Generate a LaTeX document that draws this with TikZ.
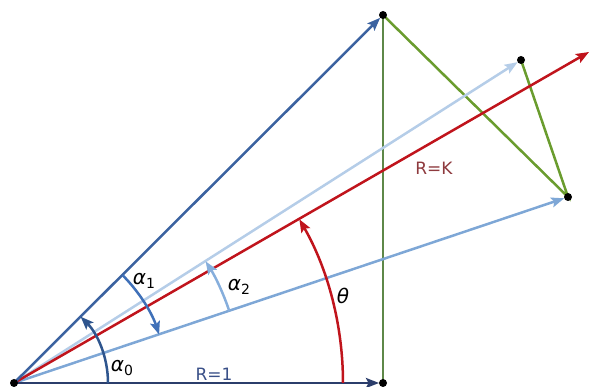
\documentclass[tikz,border=0pt]{standalone}
\usepackage{fontspec}
\setmainfont{DejaVu Sans}
\usetikzlibrary{arrows.meta,calc}
\definecolor{navy}{HTML}{2B3D6B}
\definecolor{rnavy}{HTML}{3A5088}
\definecolor{dblue}{HTML}{3B62A0}
\definecolor{arcblue}{HTML}{2E558E}
\definecolor{mblue}{HTML}{3F70B8}
\definecolor{lblue}{HTML}{7EA7D6}
\definecolor{vlblue}{HTML}{B5CDE8}
\definecolor{arclblue}{HTML}{86AEDC}
\definecolor{dred}{HTML}{C0141C}
\definecolor{kred}{HTML}{8E3A3E}
\definecolor{lgreen}{HTML}{6A9C2E}
\definecolor{vgreen}{HTML}{5E8848}
\begin{document}
\begin{tikzpicture}[x=1pt,y=1pt,
  vec/.style={line width=2.5pt,-{Stealth[length=13pt,width=10pt,inset=2.5pt]}},
  arcarrow/.style={line width=2.5pt,-{Stealth[length=13pt,width=10pt,inset=2.5pt]}},
  seg/.style={line width=2.5pt},
  dot/.style={circle,fill=black,inner sep=0pt,minimum size=8pt},
  lab/.style={font=\fontsize{20}{20}\selectfont\itshape,inner sep=0pt},
  rlab/.style={font=\fontsize{17}{17}\selectfont,inner sep=0pt}]
\useasboundingbox (0,0) rectangle (589,387);
\coordinate (O) at (14,4);
\coordinate (A) at (383,4);
\coordinate (B) at (383,372);
\coordinate (C) at (521,327);
\coordinate (D) at (568,190);
\coordinate (E) at (589,335);
% green lines
\draw[seg,vgreen] (A) -- (B);
\draw[seg,lgreen] (B) -- (D) -- (C);
% vectors
\draw[vec,vlblue] (O) -- ($(C)!4pt!(O)$);
\draw[vec,lblue] (O) -- ($(D)!4pt!(O)$);
\draw[vec,dred] (O) -- (E);
\draw[vec,dblue] (O) -- ($(B)!4pt!(O)$);
\draw[vec,navy] (O) -- ($(A)!4pt!(O)$);
% arcs
\draw[arcarrow,arcblue] ($(O)+(0:94)$) arc[start angle=0,end angle=44.84,radius=94];
\draw[arcarrow,mblue] ($(O)+(44.84:153)$) arc[start angle=44.84,end angle=18.47,radius=153];
\draw[arcarrow,arclblue] ($(O)+(18.47:227)$) arc[start angle=18.47,end angle=32.42,radius=227];
\draw[arcarrow,dred] ($(O)+(0:329)$) arc[start angle=0,end angle=29.85,radius=329];
% dots
\node[dot] (o) at (O) {};
\node[dot] (a) at (A) {};
\node[dot] (b) at (B) {};
\node[dot] (c) at (C) {};
\node[dot] (d) at (D) {};
% labels
\node[lab] (l0) at (122,19) {α\raisebox{-4pt}{\upshape\fontsize{14}{14}\selectfont 0}};
\node[lab] (l1) at (144,106) {α\raisebox{-4pt}{\upshape\fontsize{14}{14}\selectfont 1}};
\node[lab] (l2) at (239,100) {α\raisebox{-4pt}{\upshape\fontsize{14}{14}\selectfont 2}};
\node[lab] (lt) at (343,91) {θ};
\node[rlab,text=rnavy] (r1) at (214,13) {R=1};
\node[rlab,text=kred] (rk) at (434,219) {R=K};
\end{tikzpicture}
\end{document}
